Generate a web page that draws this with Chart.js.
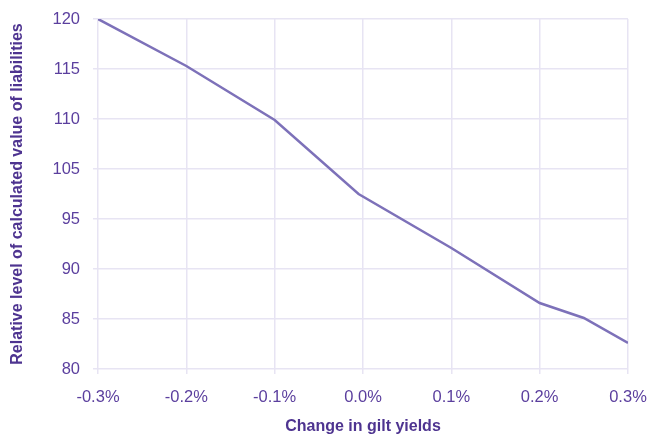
<!DOCTYPE html>
<html>
<head>
<meta charset="utf-8">
<script src="https://cdn.jsdelivr.net/npm/chart.js@4"></script>
<style>
  body{margin:0;background:#fff}
  #wrap{width:649px;height:436px;position:relative}
</style>
</head>
<body>
<div id="wrap"><canvas id="chart"></canvas></div>
<script>
// change in gilt yields (%)
const xvalue=[-0.3,-0.2,-0.1,-0.005,0.1,0.2,0.25,0.3];
// read against the gridlines (evenly spaced, one step = 5)
const yvalue=[115,110.3,104.9,97.5,92.1,86.6,85.1,82.6];
// the printed axis labels skip 100
const ylabels=['80','85','90','95','105','110','115','120'];
const xticks=[-0.3,-0.2,-0.1,0,0.1,0.2,0.3];

const purple='#5b3f9e';
const gridcol='#e7e4f3';
const fam='"Liberation Sans", Arial, Helvetica, sans-serif';

const pts=xvalue.map((x,i)=>({x:x,y:yvalue[i]}));

new Chart('chart',{
  type:'line',
  data:{
    datasets:[{
      data:pts,
      borderColor:'#7d71b9',
      borderWidth:2.5,
      pointRadius:0,
      tension:0,
      fill:false
    }]
  },
  options:{
    responsive:true,
    maintainAspectRatio:false,
    animation:false,
    layout:{padding:{top:19,right:21,bottom:0,left:0}},
    plugins:{legend:{display:false},tooltip:{enabled:false}},
    scales:{
      x:{
        type:'linear',
        min:-0.3,max:0.3,
        afterBuildTicks:s=>{s.ticks=xticks.map(v=>({value:v}));},
        afterFit:s=>{s.height=67;s.paddingLeft=0;s.paddingRight=0;},
        grid:{color:gridcol,lineWidth:1.5,tickLength:5,drawTicks:true},
        border:{display:false},
        ticks:{
          color:purple,padding:14,maxRotation:0,
          font:{family:fam,size:16.5},
          callback:v=>v.toFixed(1)+'%'
        },
        title:{display:true,text:'Change in gilt yields',color:'#4e3490',
          font:{family:fam,size:16,weight:'bold'},padding:{top:4,bottom:0}}
      },
      y:{
        type:'linear',
        min:80,max:115,
        afterBuildTicks:s=>{s.ticks=ylabels.map((l,i)=>({value:80+5*i}));},
        afterFit:s=>{s.width=98;s.paddingTop=0;s.paddingBottom=0;},
        grid:{color:gridcol,lineWidth:1.5,tickLength:5,drawTicks:true},
        border:{display:false},
        ticks:{
          color:purple,padding:13,
          font:{family:fam,size:16.5},
          callback:(v,i)=>ylabels[i]
        },
        title:{display:true,text:'Relative level of calculated value of liabilities',color:'#4e3490',
          font:{family:fam,size:16,weight:'bold'},padding:{top:8,bottom:0}}
      }
    }
  }
});
</script>
</body>
</html>
